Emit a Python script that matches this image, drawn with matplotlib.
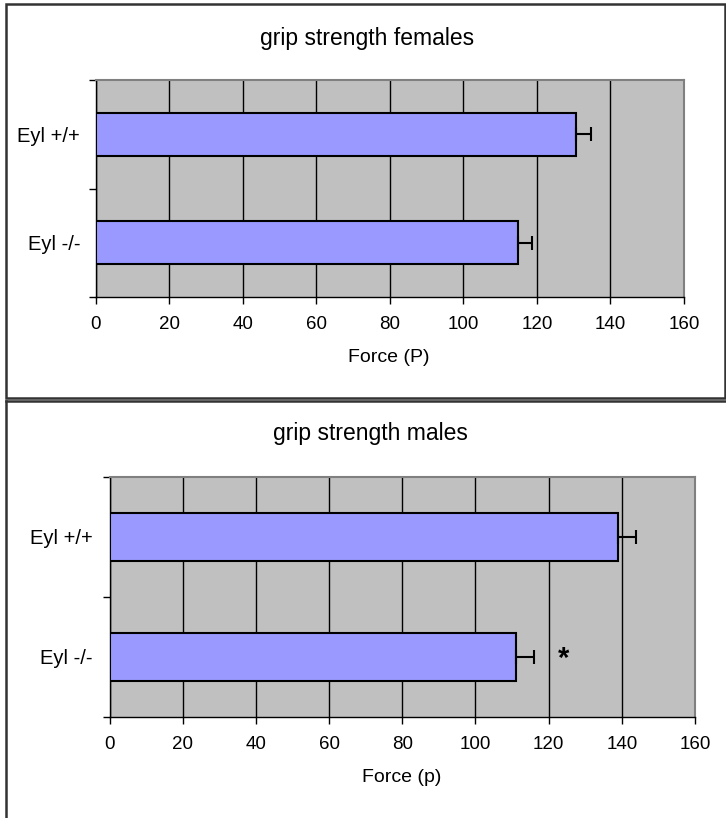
import matplotlib
matplotlib.use("Agg")
import matplotlib.pyplot as plt
from matplotlib.patches import Rectangle
from matplotlib.lines import Line2D

plt.rcParams['font.family'] = ['Liberation Sans', 'DejaVu Sans']

# data
genotypes = ['Eyl +/+', 'Eyl -/-']
female_force = [130.6, 114.9]
female_err = [4.1, 3.7]
male_force = [139.0, 111.0]
male_err = [4.8, 4.9]
x_ticks = [0, 20, 40, 60, 80, 100, 120, 140, 160]

W, H = 726, 818
fig = plt.figure(figsize=(W / 100, H / 100), dpi=100)


def px_axes(left, top, right, bottom):
    return fig.add_axes([left / W, 1 - bottom / H, (right - left) / W, (bottom - top) / H])


def draw_panel(ax, values, errs, ylab_pad):
    ypos = [1, 0]
    ax.set_facecolor('#c0c0c0')
    ax.set_xlim(0, 160)
    ax.set_ylim(-0.5, 1.5)
    ax.set_xticks(x_ticks)
    ax.set_xticklabels([str(t) for t in x_ticks], fontsize=13.5)
    ax.grid(axis='x', color='black', linewidth=1)
    ax.set_axisbelow(True)
    ax.barh(ypos, values, height=0.4, color='#9999ff', edgecolor='black',
            linewidth=1.5, zorder=3)
    ax.errorbar(values, ypos, xerr=[[0, 0], errs], fmt='none', ecolor='black',
                elinewidth=1.5, capsize=5, capthick=1.5, zorder=4)
    ax.set_yticks(ypos)
    ax.set_yticklabels(genotypes, fontsize=14.5)
    ax.set_yticks([-0.5, 0.5, 1.5], minor=True)
    ax.tick_params(axis='y', which='major', length=0, pad=ylab_pad)
    ax.tick_params(axis='y', which='minor', length=5, width=1, direction='out')
    ax.tick_params(axis='x', length=5, width=1, direction='out', pad=8.5)
    for s in ['left', 'bottom']:
        ax.spines[s].set_color('black')
        ax.spines[s].set_linewidth(1)
    for s in ['top', 'right']:
        ax.spines[s].set_color('#808080')
        ax.spines[s].set_linewidth(1.5)


# top panel (females)
ax1 = px_axes(95.5, 80, 684, 297)
draw_panel(ax1, female_force, female_err, 11)
fig.text(367 / W, 1 - 39 / H, 'grip strength females', ha='center', va='center', fontsize=16.5)
fig.text(389 / W, 1 - 358 / H, 'Force (P)', ha='center', va='center', fontsize=14)

# bottom panel (males)
ax2 = px_axes(109.5, 476.5, 695, 717)
draw_panel(ax2, male_force, male_err, 12)
ax2.text(124, -0.02, '*', ha='center', va='center', fontsize=21, fontweight='bold', zorder=5)
fig.text(370 / W, 1 - 434 / H, 'grip strength males', ha='center', va='center', fontsize=16.5)
fig.text(402 / W, 1 - 778 / H, 'Force (p)', ha='center', va='center', fontsize=14)

# panel frames
fig.add_artist(Rectangle((5.5 / W, 1 - 398 / H), 719 / W, 394.5 / H,
                         transform=fig.transFigure, fill=False,
                         edgecolor='#333333', linewidth=1.8))
fig.add_artist(Line2D([5.5 / W, 1.0], [1 - 400.5 / H] * 2, transform=fig.transFigure,
                      color='#333333', linewidth=1.8))
fig.add_artist(Line2D([5.5 / W] * 2, [0, 1 - 400.5 / H], transform=fig.transFigure,
                      color='#333333', linewidth=1.8))

fig.savefig('out.png', dpi=100)
